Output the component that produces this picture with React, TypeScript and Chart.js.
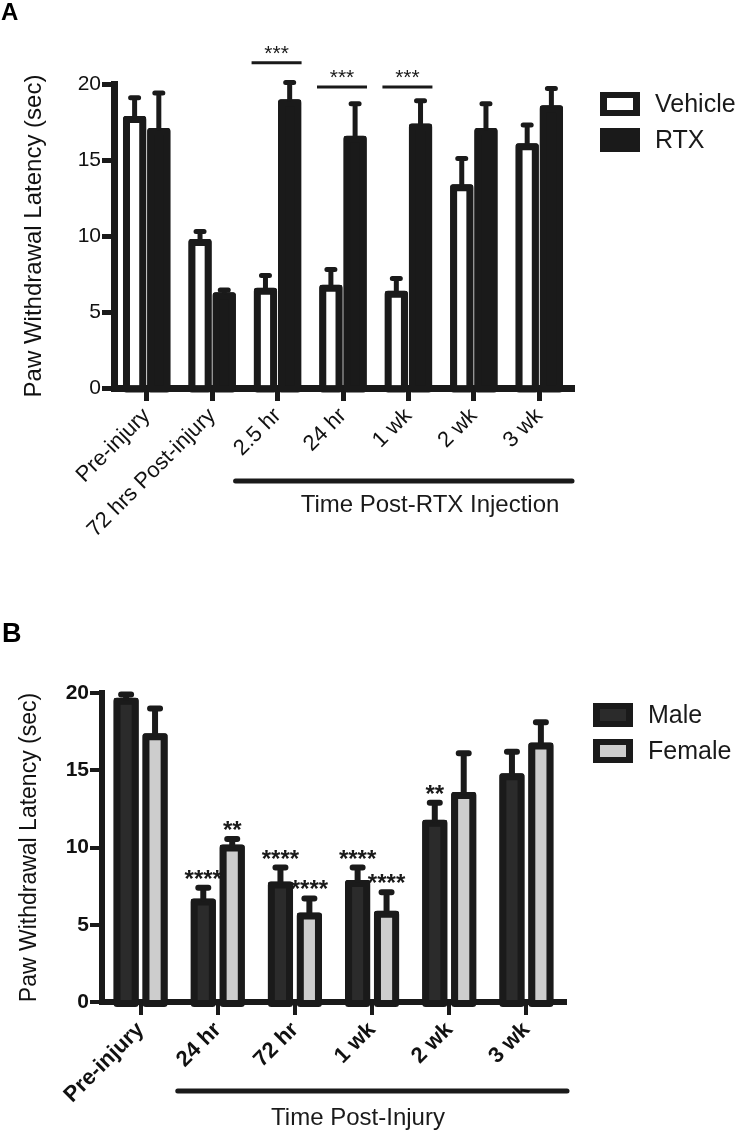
import React, { useEffect, useRef } from 'react';
import { Chart, registerables } from 'chart.js';

Chart.register(...registerables);

const FONT = '"Liberation Sans", Arial, Helvetica, sans-serif';
const INK = '#1a1a1a';

// ---------- Panel A data ----------
const categoriesA = ['Pre-injury', '72 hrs Post-injury', '2.5 hr', '24 hr', '1 wk', '2 wk', '3 wk'];
const vehicleMean = [17.9, 9.8, 6.6, 6.8, 6.4, 13.4, 16.1];
const vehicleErrTop = [19.1, 10.3, 7.4, 7.8, 7.2, 15.1, 17.3];
const rtxMean = [17.1, 6.3, 19.0, 16.6, 17.4, 17.1, 18.6];
const rtxErrTop = [19.4, 6.45, 20.1, 18.7, 18.9, 18.7, 19.7];
const sigIndexA = [2, 3, 4];
const sigTextA = ['***', '***', '***'];
const sigLevelA = [21.4, 19.8, 19.8];
const seriesNamesA = ['Vehicle', 'RTX'];
const groupTitleA = 'Time Post-RTX Injection';
const yTitle = 'Paw Withdrawal Latency (sec)';
const yMin = 0;
const yMax = 20;
const yStep = 5;

// ---------- Panel B data ----------
const categoriesB = ['Pre-injury', '24 hr', '72 hr', '1 wk', '2 wk', '3 wk'];
const maleMean = [19.7, 6.7, 7.8, 7.9, 11.8, 14.8];
const maleErrTop = [19.9, 7.4, 8.7, 8.7, 12.9, 16.2];
const femaleMean = [17.4, 10.2, 5.8, 5.9, 13.6, 16.8];
const femaleErrTop = [19.0, 10.55, 6.7, 7.1, 16.1, 18.1];
const sigMale = ['', '****', '****', '****', '**', ''];
const sigFemale = ['', '**', '****', '****', '', ''];
const seriesNamesB = ['Male', 'Female'];
const groupTitleB = 'Time Post-Injury';

const COLORS_A = ['#ffffff', INK];
const COLORS_B = ['#2b2b2b', '#cdcdcd'];

function drawBarOutlines(chart: any, bw: number) {
  const { ctx } = chart;
  ctx.save();
  ctx.strokeStyle = INK;
  ctx.lineWidth = bw;
  ctx.lineJoin = 'round';
  chart.data.datasets.forEach((_ds: any, di: number) => {
    const meta = chart.getDatasetMeta(di);
    meta.data.forEach((bar: any) => {
      const p = bar.getProps(['x', 'y', 'base', 'width'], true);
      const left = p.x - p.width / 2;
      ctx.strokeRect(left + bw / 2, p.y + bw / 2, p.width - bw, p.base - p.y);
    });
  });
  ctx.restore();
}

function drawErrorBars(chart: any, tops: number[][], lw: number, capHalf: number) {
  const { ctx } = chart;
  const y = chart.scales.y;
  ctx.save();
  ctx.strokeStyle = INK;
  ctx.lineWidth = lw;
  ctx.lineCap = 'round';
  chart.data.datasets.forEach((ds: any, di: number) => {
    const meta = chart.getDatasetMeta(di);
    meta.data.forEach((bar: any, i: number) => {
      const base = y.getPixelForValue(ds.data[i]);
      const top = y.getPixelForValue(tops[di][i]);
      ctx.beginPath();
      ctx.moveTo(bar.x, base);
      ctx.lineTo(bar.x, top);
      ctx.moveTo(bar.x - capHalf, top);
      ctx.lineTo(bar.x + capHalf, top);
      ctx.stroke();
    });
  });
  ctx.restore();
}

function drawLegend(ctx: any, x: number, y: number, names: string[], fills: string[], font: string) {
  names.forEach((name, i) => {
    const by = y + i * 36;
    ctx.fillStyle = INK;
    ctx.fillRect(x, by, 40, 24);
    if (fills[i] !== INK) {
      ctx.fillStyle = fills[i];
      ctx.fillRect(x + 7, by + 6, 26, 12);
    }
    ctx.fillStyle = INK;
    ctx.font = font;
    ctx.textAlign = 'left';
    ctx.textBaseline = 'middle';
    ctx.fillText(name, x + 55, by + 13);
  });
}

const panelAPlugin = {
  id: 'panelA',
  afterDatasetsDraw(chart: any) {
    drawBarOutlines(chart, 7);
    drawErrorBars(chart, [vehicleErrTop, rtxErrTop], 5, 4);
  },
  afterDraw(chart: any) {
    const { ctx, chartArea, scales } = chart;
    const x = scales.x;
    const y = scales.y;
    ctx.save();
    ctx.fillStyle = INK;
    ctx.strokeStyle = INK;
    // significance bars
    sigIndexA.forEach((idx, k) => {
      const cx = x.getPixelForValue(idx);
      const ly = y.getPixelForValue(sigLevelA[k]);
      ctx.lineWidth = 3;
      ctx.lineCap = 'butt';
      ctx.beginPath();
      ctx.moveTo(cx - 26, ly);
      ctx.lineTo(cx + 24, ly);
      ctx.stroke();
      ctx.font = `21px ${FONT}`;
      ctx.textAlign = 'center';
      ctx.textBaseline = 'alphabetic';
      ctx.fillText(sigTextA[k], cx - 1, ly - 3);
    });
    // group underline + title
    const gx0 = x.getPixelForValue(2) - 42;
    const gx1 = chartArea.right;
    const gy = chartArea.bottom + 93;
    ctx.lineWidth = 5;
    ctx.lineCap = 'round';
    ctx.beginPath();
    ctx.moveTo(gx0, gy);
    ctx.lineTo(gx1, gy);
    ctx.stroke();
    ctx.font = `24px ${FONT}`;
    ctx.textAlign = 'center';
    ctx.textBaseline = 'middle';
    ctx.fillText(groupTitleA, chartArea.left + 316, gy + 24);
    // legend
    drawLegend(ctx, chartArea.right + 28, chartArea.top + 8, seriesNamesA, COLORS_A, `25px ${FONT}`);
    // panel letter
    ctx.fillStyle = '#000';
    ctx.font = `bold 24px ${FONT}`;
    ctx.textAlign = 'left';
    ctx.textBaseline = 'alphabetic';
    ctx.fillText('A', 1, 20);
    ctx.restore();
  },
};

const panelBPlugin = {
  id: 'panelB',
  afterDatasetsDraw(chart: any) {
    drawBarOutlines(chart, 7);
    drawErrorBars(chart, [maleErrTop, femaleErrTop], 6, 5);
  },
  afterDraw(chart: any) {
    const { ctx, chartArea, scales } = chart;
    const x = scales.x;
    const y = scales.y;
    ctx.save();
    ctx.fillStyle = INK;
    ctx.strokeStyle = INK;
    // significance stars above error bars
    const sigs = [sigMale, sigFemale];
    const tops = [maleErrTop, femaleErrTop];
    ctx.font = `bold 24px ${FONT}`;
    ctx.textAlign = 'center';
    ctx.textBaseline = 'alphabetic';
    sigs.forEach((arr, di) => {
      const meta = chart.getDatasetMeta(di);
      arr.forEach((s, i) => {
        if (!s) return;
        const bar: any = meta.data[i];
        ctx.fillText(s, bar.x, y.getPixelForValue(tops[di][i]) - 1);
      });
    });
    // group underline + title
    const gx0 = x.getPixelForValue(1) - 40;
    const gx1 = chartArea.right + 2;
    const gy = chartArea.bottom + 89;
    ctx.lineWidth = 5;
    ctx.lineCap = 'round';
    ctx.beginPath();
    ctx.moveTo(gx0, gy);
    ctx.lineTo(gx1, gy);
    ctx.stroke();
    ctx.font = `24px ${FONT}`;
    ctx.textAlign = 'center';
    ctx.textBaseline = 'middle';
    ctx.fillText(groupTitleB, chartArea.left + 256, gy + 27);
    // legend
    drawLegend(ctx, chartArea.right + 28, chartArea.top + 10, seriesNamesB, COLORS_B, `25px ${FONT}`);
    // panel letter
    ctx.fillStyle = '#000';
    ctx.font = `bold 27px ${FONT}`;
    ctx.textAlign = 'left';
    ctx.textBaseline = 'alphabetic';
    ctx.fillText('B', 2, 82);
    ctx.restore();
  },
};

function buildConfig(opts: {
  labels: string[];
  series: number[][];
  names: string[];
  fills: string[];
  bold: boolean;
  xFont: number;
  yWidth: number;
  xHeight: number;
  top: number;
  right: number;
  catPct: number;
  barPct: number;
  titleSize: number;
  titlePad: number;
  axisWidth: number;
  plugin: any;
}): any {
  const weight = opts.bold ? 'bold' : 'normal';
  return {
    type: 'bar',
    data: {
      labels: opts.labels,
      datasets: opts.series.map((d, i) => ({
        label: opts.names[i],
        data: d,
        backgroundColor: opts.fills[i],
        borderColor: INK,
        borderWidth: 6,
        borderRadius: 2,
        categoryPercentage: opts.catPct,
        barPercentage: opts.barPct,
      })),
    },
    options: {
      responsive: false,
      animation: false,
      devicePixelRatio: 1,
      layout: { padding: { left: 0, right: opts.right, top: opts.top, bottom: 0 } },
      plugins: { legend: { display: false }, tooltip: { enabled: false } },
      scales: {
        x: {
          z: 1,
          offset: true,
          grid: { display: true, offset: false, drawOnChartArea: false, drawTicks: true, tickLength: 13, lineWidth: opts.bold ? 4 : 5, color: INK },
          border: { display: true, width: opts.axisWidth, color: INK },
          ticks: {
            autoSkip: false,
            maxRotation: 45,
            minRotation: 45,
            padding: 2,
            color: '#111',
            font: { family: FONT, size: opts.xFont, weight },
          },
          afterFit: (scale: any) => {
            scale.height = opts.xHeight;
          },
        },
        y: {
          min: yMin,
          max: yMax,
          grid: { display: true, drawOnChartArea: false, drawTicks: true, tickLength: 12, lineWidth: opts.bold ? 4 : 5, color: INK },
          border: { display: true, width: opts.axisWidth, color: INK },
          ticks: {
            stepSize: yStep,
            padding: 1,
            color: '#111',
            font: { family: FONT, size: 21, weight },
          },
          title: {
            display: true,
            text: yTitle,
            color: '#111',
            font: { family: FONT, size: opts.titleSize },
            padding: { top: opts.titlePad, bottom: 0 },
          },
          afterFit: (scale: any) => {
            scale.width = opts.yWidth;
          },
        },
      },
    },
    plugins: [opts.plugin],
  };
}

export default function App() {
  const refA = useRef<HTMLCanvasElement | null>(null);
  const refB = useRef<HTMLCanvasElement | null>(null);

  useEffect(() => {
    const chartA = new Chart(
      refA.current as HTMLCanvasElement,
      buildConfig({
        labels: categoriesA,
        series: [vehicleMean, rtxMean],
        names: seriesNamesA,
        fills: COLORS_A,
        bold: false,
        xFont: 22,
        yWidth: 114,
        xHeight: 560 - 388,
        top: 84,
        right: 738 - 572,
        catPct: 0.74,
        barPct: 0.96,
        titleSize: 24,
        titlePad: 20,
        axisWidth: 7,
        plugin: panelAPlugin,
      })
    );
    const chartB = new Chart(
      refB.current as HTMLCanvasElement,
      buildConfig({
        labels: categoriesB,
        series: [maleMean, femaleMean],
        names: seriesNamesB,
        fills: COLORS_B,
        bold: true,
        xFont: 22,
        yWidth: 102,
        xHeight: 573 - 442,
        top: 133,
        right: 738 - 565,
        catPct: 0.75,
        barPct: 0.87,
        titleSize: 23,
        titlePad: 16,
        axisWidth: 6,
        plugin: panelBPlugin,
      })
    );
    return () => {
      chartA.destroy();
      chartB.destroy();
    };
  }, []);

  return (
    <div style={{ position: 'absolute', left: 0, top: 0, width: 738, height: 1133, background: '#fff' }}>
      <canvas ref={refA} width={738} height={560} style={{ position: 'absolute', left: 0, top: 0, width: 738, height: 560 }} />
      <canvas ref={refB} width={738} height={573} style={{ position: 'absolute', left: 0, top: 560, width: 738, height: 573 }} />
    </div>
  );
}
